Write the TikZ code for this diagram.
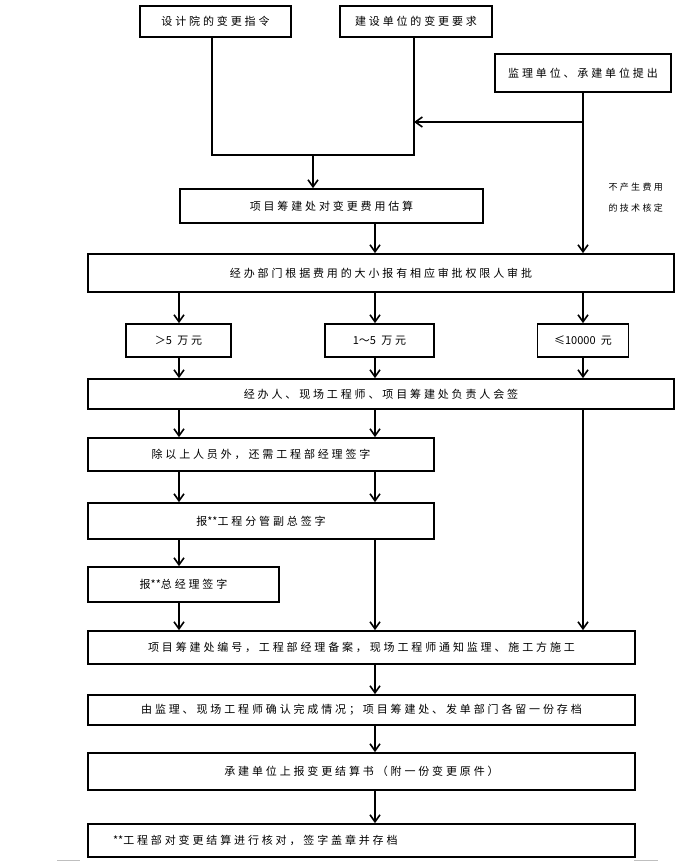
\documentclass[tikz,border=0pt]{standalone}
\usepackage{fontspec}
\setmainfont[LetterSpace=26]{Noto Sans CJK SC}
\newfontfamily\plainfont{Noto Sans CJK SC}
\usepackage{tikz}
\usetikzlibrary{arrows.meta, calc}
\tikzset{
  box/.style={draw, line width=1.7pt, inner sep=0pt, font=\fontsize{11}{13}\selectfont},
  arr/.style={-{Straight Barb[length=7pt,width=10pt]}, line width=1.6pt},
  link/.style={-, line width=1.6pt}
}

\begin{document}
\begin{tikzpicture}[x=1pt, y=-1pt]
					\useasboundingbox (0,0) rectangle (684,861);
					\coordinate (colL) at (179,0);
					\coordinate (colM) at (375,0);
					\coordinate (colR) at (583,0);
					\coordinate (legA) at (212,155);
					\coordinate (legB) at (414,155);
					\coordinate (join) at (313,155);
					\coordinate (tap) at (583,122);

					\node[box, minimum width=151, minimum height=31] at (215.5,21.5) (sjy) {设计院的变更指令};
					\node[box, minimum width=152, minimum height=31] at (416,21.5) (jsdw) {建设单位的变更要求};
					\node[box, minimum width=176, minimum height=38] at (583,73) (jltc) {监理单位、承建单位提出};
					\node[box, minimum width=303, minimum height=34] at (331.5,206) (gs) {项目筹建处对变更费用估算};
					\node[box, minimum width=586, minimum height=38] at (381,273) (spb) {经办部门根据费用的大小报有相应审批权限人审批};
					\node[box, minimum width=105, minimum height=33] at (178.5,340.5) (dy5) {{\plainfont ＞5} 万元};
					\node[box, minimum width=109, minimum height=33] at (379.5,340.5) (ydw) {{\plainfont 1～5} 万元};
					\node[box, minimum width=91, minimum height=33] at (583,340.5) (xyy) {{\plainfont ≤10000} 元};
					\node[box, minimum width=586, minimum height=30] at (381,394) (hq) {经办人、现场工程师、项目筹建处负责人会签};
					\node[box, minimum width=346, minimum height=33] at (261,454.5) (gcb) {除以上人员外，还需工程部经理签字};
					\node[box, minimum width=346, minimum height=36] at (261,521) (fgfz) {报{\plainfont **}工程分管副总签字};
					\node[box, minimum width=191, minimum height=35] at (183.5,584.5) (zjl) {报{\plainfont **}总经理签字};
					\node[box, minimum width=547, minimum height=33] at (361.5,647.5) (bh) {项目筹建处编号，工程部经理备案，现场工程师通知监理、施工方施工};
					\node[box, minimum width=547, minimum height=30] at (361.5,710) (qr) {由监理、现场工程师确认完成情况；项目筹建处、发单部门各留一份存档};
					\node[box, minimum width=547, minimum height=37] at (361.5,771.5) (jss) {承建单位上报变更结算书（附一份变更原件）};
					\node[box, minimum width=547, minimum height=33, text width=547, align=left] at (361.5,840.5) (hd) {\hspace*{25pt}{\plainfont **}工程部对变更结算进行核对，签字盖章并存档};
					\node[anchor=west, align=left, font=\fontsize{9}{21}\selectfont] at (605,198) (bcs) {不产生费用\\的技术核定};

					\draw[link] (sjy.south -| legA) -- (legA) -- (legB) -- (jsdw.south -| legB);
					\draw[arr] (join) -- (gs.north -| join);
					\draw[arr] (tap) -- (legB |- tap);

					\draw
					(jltc) edge[arr] (spb.north -| colR)
					(gs.south -| colM) edge[arr] (spb.north -| colM)
					(spb.south -| colL) edge[arr] (dy5.north -| colL)
					(spb.south -| colM) edge[arr] (ydw.north -| colM)
					(spb.south -| colR) edge[arr] (xyy.north -| colR)
					(dy5.south -| colL) edge[arr] (hq.north -| colL)
					(ydw.south -| colM) edge[arr] (hq.north -| colM)
					(xyy.south -| colR) edge[arr] (hq.north -| colR)
					(hq.south -| colL) edge[arr] (gcb.north -| colL)
					(hq.south -| colM) edge[arr] (gcb.north -| colM)
					(hq.south -| colR) edge[arr] (bh.north -| colR)
					(gcb.south -| colL) edge[arr] (fgfz.north -| colL)
					(gcb.south -| colM) edge[arr] (fgfz.north -| colM)
					(fgfz.south -| colL) edge[arr] (zjl.north -| colL)
					(fgfz.south -| colM) edge[arr] (bh.north -| colM)
					(zjl.south -| colL) edge[arr] (bh.north -| colL)
					(bh.south -| colM) edge[arr] (qr.north -| colM)
					(qr.south -| colM) edge[arr] (jss.north -| colM)
					(jss.south -| colM) edge[arr] (hd.north -| colM);

					% page corner marks
					\draw[gray!50, line width=0.8pt] (57,860) -- (79,860) -- (79,861.5);
					\draw[gray!50, line width=0.8pt] (634,861.5) -- (634,860) -- (658,860);
				\end{tikzpicture}
\end{document}
